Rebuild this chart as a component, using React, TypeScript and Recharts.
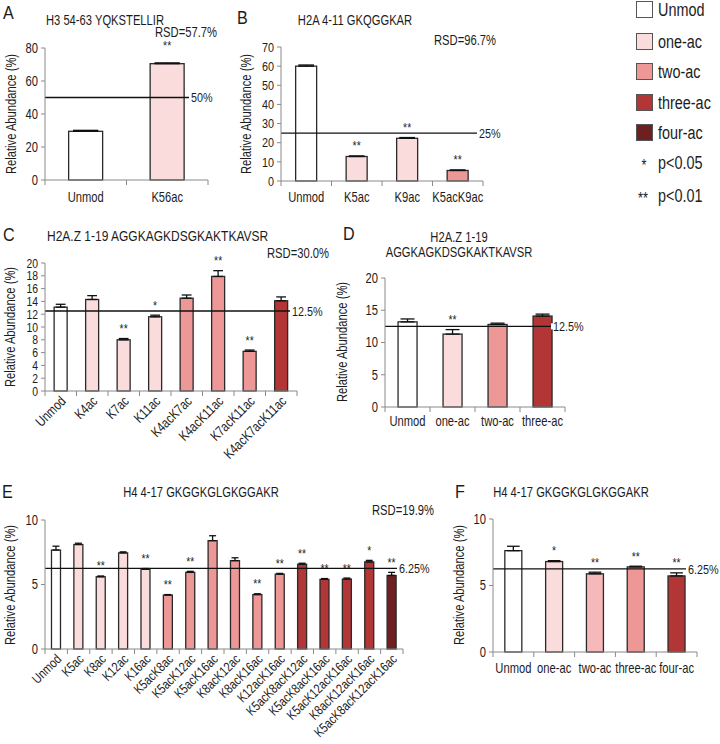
import React from 'react';
import { BarChart, Bar, XAxis, YAxis, ErrorBar, Cell, ReferenceLine } from 'recharts';

const FONT = '"Liberation Sans", Arial, sans-serif';
const AXIS = '#8a8a8a';
const INK = '#1c1c1c';
const SX = 0.8; // the figure's lettering is horizontally squeezed

// fill by number of acetylations (0 = unmodified)
const LEVEL_FILL = ['#ffffff', '#fbdcdc', '#ee9797', '#b23636', '#6e1f1f'];
const F_FILL = ['#ffffff', '#fbdcdc', '#f5b9b9', '#ee9797', '#b23636'];

// A: H3 54-63
const aCats = ['Unmod', 'K56ac'];
const aVals = [29.5, 70.5];
const aErrs = [0.6, 0.5];
const aLevel = [0, 1];
const aSig = ['', '**'];

// B: H2A 4-11
const bCats = ['Unmod', 'K5ac', 'K9ac', 'K5acK9ac'];
const bVals = [60, 12.8, 22.3, 5.5];
const bErrs = [0.6, 0.3, 0.4, 0.3];
const bLevel = [0, 1, 1, 2];
const bSig = ['', '**', '**', '**'];

// C: H2A.Z 1-19 single forms
const cCats = ['Unmod', 'K4ac', 'K7ac', 'K11ac', 'K4acK7ac', 'K4acK11ac', 'K7acK11ac', 'K4acK7acK11ac'];
const cVals = [13.1, 14.3, 8.0, 11.6, 14.5, 17.9, 6.2, 14.1];
const cErrs = [0.45, 0.6, 0.2, 0.25, 0.5, 0.9, 0.2, 0.6];
const cLevel = [0, 1, 1, 1, 2, 2, 2, 3];
const cSig = ['', '', '**', '*', '', '**', '**', ''];

// D: H2A.Z 1-19 by degree
const dCats = ['Unmod', 'one-ac', 'two-ac', 'three-ac'];
const dVals = [13.2, 11.3, 12.8, 14.1];
const dErrs = [0.45, 0.7, 0.2, 0.3];
const dLevel = [0, 1, 2, 3];
const dSig = ['', '**', '', ''];

// E: H4 4-17 single forms
const eCats = ['Unmod', 'K5ac', 'K8ac', 'K12ac', 'K16ac', 'K5acK8ac', 'K5acK12ac', 'K5acK16ac', 'K8acK12ac',
  'K8acK16ac', 'K12acK16ac', 'K5acK8acK12ac', 'K5acK8acK16ac', 'K5acK12acK16ac', 'K8acK12acK16ac', 'K5acK8acK12acK16ac'];
const eVals = [7.67, 8.1, 5.6, 7.45, 6.18, 4.18, 5.94, 8.4, 6.85, 4.22, 5.8, 6.57, 5.4, 5.42, 6.75, 5.7];
const eErrs = [0.3, 0.1, 0.06, 0.08, 0.06, 0.04, 0.08, 0.38, 0.22, 0.06, 0.06, 0.08, 0.06, 0.08, 0.12, 0.24];
const eLevel = [0, 1, 1, 1, 1, 2, 2, 2, 2, 2, 2, 3, 3, 3, 3, 4];
const eSig = ['', '', '**', '', '**', '**', '**', '', '', '**', '**', '**', '**', '**', '*', '**'];

// F: H4 4-17 by degree
const fCats = ['Unmod', 'one-ac', 'two-ac', 'three-ac', 'four-ac'];
const fVals = [7.62, 6.8, 5.88, 6.4, 5.72];
const fErrs = [0.33, 0.07, 0.12, 0.05, 0.23];
const fLevel = [0, 1, 2, 3, 4];
const fSig = ['', '*', '**', '**', '**'];

const legendItems = ['Unmod', 'one-ac', 'two-ac', 'three-ac', 'four-ac'];

type PanelProps = {
  left: number; top: number; plotW: number; plotH: number;
  cats: string[]; vals: number[]; errs: number[]; level: number[]; sig: string[];
  palette?: string[];
  yMax: number; ticks: number[]; tickFs: number;
  refY: number; refText: string; refDx: number;
  rotate?: boolean; xFs: number; labelDy?: number; starGap?: number;
};

function Panel(p: PanelProps) {
  const n = p.cats.length;
  const band = p.plotW / n;
  const pal = p.palette || LEVEL_FILL;
  const YW = 40, MT = 14, MR = 50;
  const xH = p.rotate ? 120 : 30;
  const data = p.cats.map((c, i) => ({ name: c, v: p.vals[i], e: p.errs[i], eb: [0, p.errs[i]], sig: p.sig[i] }));
  const starGap = p.starGap ?? 13;
  const labelDy = p.labelDy ?? 21;

  const xTick = (t: any) => {
    const { x, y, payload, index } = t;
    return (
      <g>
        <line x1={x - band / 2} x2={x - band / 2} y1={y} y2={y + 5} stroke={AXIS} />
        {index === n - 1 && <line x1={x + band / 2} x2={x + band / 2} y1={y} y2={y + 5} stroke={AXIS} />}
        {p.rotate ? (
          <text transform={`translate(${x + 6},${y + 11}) rotate(-45) scale(${SX},1)`} textAnchor="end"
            fontSize={p.xFs} fontFamily={FONT} fill={INK}>{payload.value}</text>
        ) : (
          <text transform={`translate(${x},${y + labelDy}) scale(${SX},1)`} textAnchor="middle"
            fontSize={p.xFs} fontFamily={FONT} fill={INK}>{payload.value}</text>
        )}
      </g>
    );
  };

  const yTick = (t: any) => (
    <text transform={`translate(${t.x},${t.y}) scale(${SX},1)`} dy="0.35em" textAnchor="end"
      fontSize={p.tickFs} fontFamily={FONT} fill={INK}>{t.payload.value}</text>
  );

  const barShape = (s: any) => {
    const { x, y, width, height, fill, payload } = s;
    const k = payload.v ? height / payload.v : 0;
    const errTop = y - payload.e * k;
    return (
      <g>
        <rect x={x} y={y} width={width} height={height} fill={fill} stroke="#2a2a2a" strokeWidth={1.3} />
        {payload.sig && (
          <text transform={`translate(${x + width / 2},${errTop - starGap + 7.5}) scale(${SX},1)`}
            textAnchor="middle" fontSize={13} fontFamily={FONT} fill={INK}>{payload.sig}</text>
        )}
      </g>
    );
  };

  const refLabel = (lp: any) => {
    const vb = lp.viewBox;
    const lx = vb.x + p.refDx;
    return (
      <g>
        <rect x={lx - 1} y={vb.y - 3} width={vb.x + vb.width - lx + 3} height={6} fill="#fff" />
        <text transform={`translate(${lx + 1},${vb.y}) scale(${SX},1)`} dy="0.35em" fontSize={13.5}
          fontFamily={FONT} fill={INK}>{p.refText}</text>
      </g>
    );
  };

  return (
    <div style={{ position: 'absolute', left: p.left - YW, top: p.top - MT }}>
      <BarChart width={YW + p.plotW + MR} height={MT + p.plotH + xH} data={data}
        margin={{ top: MT, right: MR, left: 0, bottom: 0 }} barCategoryGap="29%">
        <XAxis dataKey="name" interval={0} height={xH} axisLine={{ stroke: AXIS }} tickLine={false}
          tickSize={0} tickMargin={0} tick={xTick} />
        <YAxis width={YW} domain={[0, p.yMax]} ticks={p.ticks} interval={0}
          axisLine={{ stroke: AXIS }} tickLine={{ stroke: AXIS }} tickSize={4} tickMargin={3} tick={yTick} />
        <Bar dataKey="v" isAnimationActive={false} shape={barShape}>
          {p.level.map((lv, i) => <Cell key={i} fill={pal[lv]} />)}
          <ErrorBar dataKey="eb" direction="y" width={band * 0.42 * 0.37} stroke="#111" strokeWidth={1.3} />
        </Bar>
        <ReferenceLine y={p.refY} stroke="#111" strokeWidth={1.3} ifOverflow="visible" label={refLabel} />
      </BarChart>
    </div>
  );
}

function Txt({ x, y, size, children, anchor = 'start', rotate = false, sx = SX }: any) {
  const tx = anchor === 'middle' ? '-50%' : anchor === 'end' ? '-100%' : '0';
  const ox = anchor === 'middle' ? '50%' : anchor === 'end' ? '100%' : '0';
  return (
    <div style={{
      position: 'absolute', left: x, top: y, fontSize: size, fontFamily: FONT, lineHeight: 1,
      whiteSpace: 'nowrap', color: INK,
      transformOrigin: rotate ? '50% 50%' : `${ox} 50%`,
      transform: rotate ? `translate(-50%,-50%) rotate(-90deg) scaleX(${sx})` : `translate(${tx},-50%) scaleX(${sx})`,
    }}>{children}</div>
  );
}

const YL = 'Relative Abundance (%)';

export default function App() {
  return (
    <div style={{ position: 'absolute', left: 0, top: 0, width: 720, height: 744, background: '#fff', overflow: 'hidden' }}>
      {/* A */}
      <Txt x={3} y={12} size={19} sx={0.85}>A</Txt>
      <Txt x={105} y={20} size={14} anchor="middle">H3 54-63 YQKSTELLIR</Txt>
      <Txt x={155} y={32} size={14}>RSD=57.7%</Txt>
      <Txt x={11} y={114} size={14} rotate>{YL}</Txt>
      <Panel left={45} top={48} plotW={163} plotH={132} cats={aCats} vals={aVals} errs={aErrs} level={aLevel}
        sig={aSig} yMax={80} ticks={[0, 20, 40, 60, 80]} tickFs={14} refY={50} refText="50%" refDx={145}
        xFs={14} labelDy={22} starGap={20} />

      {/* B */}
      <Txt x={237} y={17} size={19} sx={0.85}>B</Txt>
      <Txt x={355} y={20} size={14} anchor="middle">H2A 4-11 GKQGGKAR</Txt>
      <Txt x={434} y={40} size={14}>RSD=96.7%</Txt>
      <Txt x={246} y={114} size={14} rotate>{YL}</Txt>
      <Panel left={281} top={47} plotW={202} plotH={134} cats={bCats} vals={bVals} errs={bErrs} level={bLevel}
        sig={bSig} yMax={70} ticks={[0, 10, 20, 30, 40, 50, 60, 70]} tickFs={13.5} refY={25} refText="25%"
        refDx={197} xFs={14} labelDy={21} />

      {/* legend */}
      {legendItems.map((name, i) => (
        <React.Fragment key={name}>
          <div style={{
            position: 'absolute', left: 636, top: [1, 33, 63, 94, 124][i], width: 15, height: 15,
            background: LEVEL_FILL[i], border: '1.5px solid #555',
          }} />
          <Txt x={658} y={[10, 41.5, 71.5, 102.5, 133][i]} size={18}>{name}</Txt>
        </React.Fragment>
      ))}
      <Txt x={644} y={166} size={16} anchor="middle">*</Txt>
      <Txt x={658} y={163} size={18}>p&lt;0.05</Txt>
      <Txt x={643} y={199} size={16} anchor="middle">**</Txt>
      <Txt x={658} y={196} size={18}>p&lt;0.01</Txt>

      {/* C */}
      <Txt x={3} y={234} size={19} sx={0.85}>C</Txt>
      <Txt x={47} y={235} size={15}>H2A.Z 1-19 AGGKAGKDSGKAKTKAVSR</Txt>
      <Txt x={267} y={253} size={14}>RSD=30.0%</Txt>
      <Txt x={10} y={327} size={14} rotate>{YL}</Txt>
      <Panel left={45} top={263} plotW={252} plotH={128} cats={cCats} vals={cVals} errs={cErrs} level={cLevel}
        sig={cSig} yMax={20} ticks={[0, 2, 4, 6, 8, 10, 12, 14, 16, 18, 20]} tickFs={13} refY={12.5}
        refText="12.5%" refDx={246} xFs={14} rotate />

      {/* D */}
      <Txt x={343} y={233} size={19} sx={0.85}>D</Txt>
      <Txt x={459} y={237} size={14} anchor="middle">H2A.Z 1-19</Txt>
      <Txt x={459} y={252} size={14} anchor="middle">AGGKAGKDSGKAKTKAVSR</Txt>
      <Txt x={342} y={342} size={14} rotate>{YL}</Txt>
      <Panel left={385} top={278} plotW={180} plotH={129} cats={dCats} vals={dVals} errs={dErrs} level={dLevel}
        sig={dSig} yMax={20} ticks={[0, 5, 10, 15, 20]} tickFs={14} refY={12.5} refText="12.5%" refDx={167}
        xFs={14} labelDy={19} />

      {/* E */}
      <Txt x={2} y={491} size={19} sx={0.85}>E</Txt>
      <Txt x={201} y={492} size={14} anchor="middle">H4 4-17 GKGGKGLGKGGAKR</Txt>
      <Txt x={372} y={510} size={14}>RSD=19.9%</Txt>
      <Txt x={10} y={585} size={14} rotate>{YL}</Txt>
      <Panel left={45} top={520} plotW={358} plotH={129} cats={eCats} vals={eVals} errs={eErrs} level={eLevel}
        sig={eSig} yMax={10} ticks={[0, 5, 10]} tickFs={14} refY={6.25} refText="6.25%" refDx={353}
        xFs={13.5} rotate />

      {/* F */}
      <Txt x={455} y={491} size={19} sx={0.85}>F</Txt>
      <Txt x={571} y={492} size={14} anchor="middle">H4 4-17 GKGGKGLGKGGAKR</Txt>
      <Txt x={459} y={585} size={14} rotate>{YL}</Txt>
      <Panel left={493} top={519} plotW={204} plotH={133} cats={fCats} vals={fVals} errs={fErrs} level={fLevel}
        sig={fSig} palette={F_FILL} yMax={10} ticks={[0, 5, 10]} tickFs={14} refY={6.25} refText="6.25%"
        refDx={194} xFs={14} labelDy={21} />
    </div>
  );
}
